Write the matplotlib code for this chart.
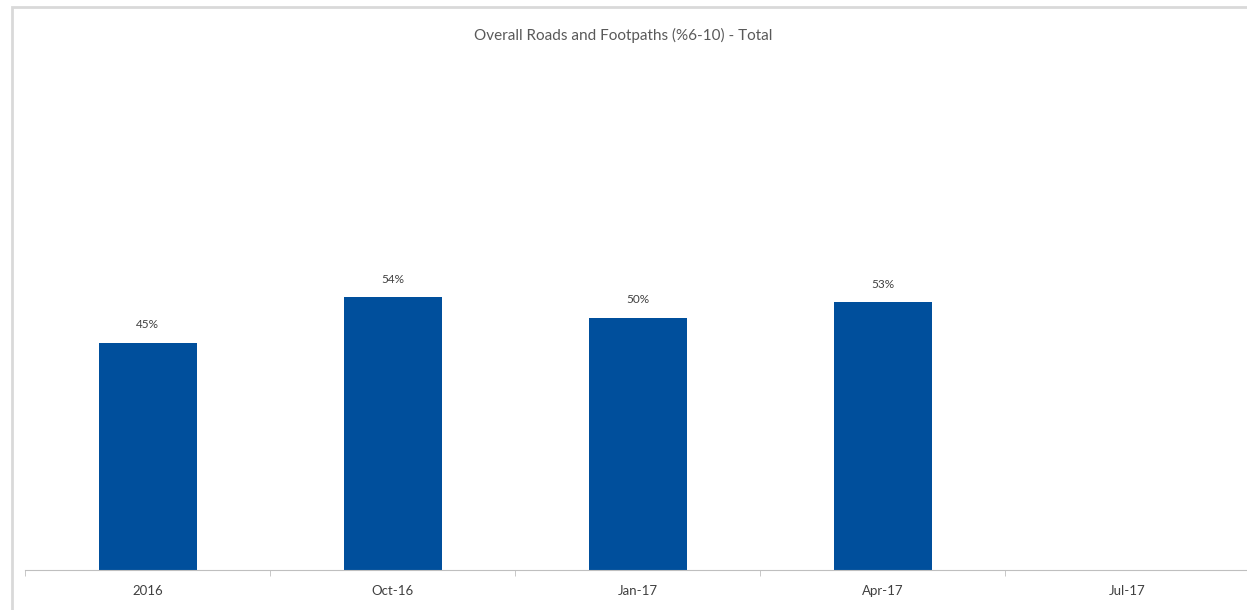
import matplotlib
matplotlib.use("Agg")
import matplotlib.pyplot as plt
from matplotlib.patches import Rectangle

categories = ["2016", "Oct-16", "Jan-17", "Apr-17", "Jul-17"]
values = [45, 54, 50, 53, None]
title = "Overall Roads and Footpaths (%6-10) - Total"

plt.rcParams['font.family'] = ['Lato', 'DejaVu Sans']

fig = plt.figure(figsize=(12.47, 6.10), dpi=100)
fig.patch.set_facecolor("white")

# outer chart frame
fig.add_artist(Rectangle((12 / 1247, -0.05), 1.1, 1 - 7 / 610 + 0.05,
                         transform=fig.transFigure, fill=False,
                         edgecolor="#d9d9d9", lw=2))

ax = fig.add_axes([25 / 1247, 40 / 610, 1225 / 1247, 505 / 610])
x = list(range(len(categories)))
for i, v in enumerate(values):
    if v is None:
        continue
    ax.bar(i, v, width=0.4, color="#004f9c")
    ax.text(i, v + 2.5, f"{v}%", ha="center", va="bottom", fontsize=8.5, color="#404040")

ax.set_xlim(-0.5, len(categories) - 0.5)
ax.set_ylim(0, 100)
ax.set_yticks([])
for s in ["top", "right", "left"]:
    ax.spines[s].set_visible(False)
ax.spines["bottom"].set_color("#bfbfbf")
ax.set_xticks(x)
ax.set_xticklabels(categories, fontsize=9.5, color="#404040")
ax.tick_params(axis="x", length=0, pad=11)
ax.set_xticks([i - 0.5 for i in x], minor=True)
ax.tick_params(axis="x", which="minor", length=4, color="#bfbfbf")

fig.text(0.5, 1 - 35 / 610, title, ha="center", va="center", fontsize=11, color="#595959")

fig.savefig("out.png", dpi=100)
